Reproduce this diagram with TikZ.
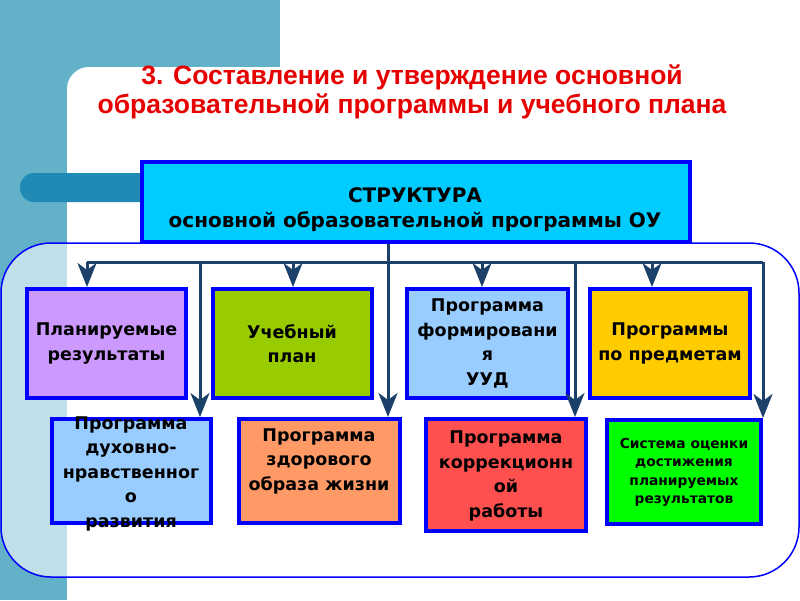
\documentclass[tikz,border=0pt]{standalone}
\usepackage{fontspec}
\setmainfont{DejaVu Sans}
\newfontfamily\titlefont{Liberation Sans}
\usetikzlibrary{arrows.meta}
\definecolor{tealbg}{HTML}{62B1C9}
\definecolor{barc}{HTML}{1E8AB5}
\definecolor{navy}{HTML}{1B4069}
\definecolor{bord}{HTML}{0000FF}
\definecolor{titlered}{HTML}{E60000}
\definecolor{cstruct}{HTML}{00CCFF}
\definecolor{cviolet}{HTML}{CC99FF}
\definecolor{colive}{HTML}{99CC00}
\definecolor{clblue}{HTML}{99CCFF}
\definecolor{cgold}{HTML}{FFCC00}
\definecolor{corange}{HTML}{FF9966}
\definecolor{cred}{HTML}{FF5050}
\definecolor{cgreen}{HTML}{00FF00}
\begin{document}
\begin{tikzpicture}[x=1pt,y=-1pt,
  box/.style={draw=bord,line width=4pt,inner sep=0pt},
  txt/.style={font=\bfseries\fontsize{17.5}{24.5}\selectfont,align=center,text=black},
  smalltxt/.style={font=\bfseries\fontsize{13.8}{18.5}\selectfont,align=center,text=black},
  conn/.style={draw=navy,line width=3pt},
  arr/.style={conn,-{Stealth[length=24pt,width=19pt,inset=7pt]}}]
\useasboundingbox (0,0) rectangle (800,600);
% background
\fill[tealbg] (0,0) rectangle (280,600);
\fill[white,rounded corners=22pt] (67,67) -- (830,67) -- (830,630) -- (67,630) -- cycle;
\fill[barc,rounded corners=14pt] (20,173) rectangle (160,202);
% container
\draw[bord,line width=1.5pt,fill=white,fill opacity=0.6,rounded corners=50pt] (1,243) rectangle (799,577);
% title
\node[font=\titlefont\bfseries\fontsize{26.5}{28.5}\selectfont,text=titlered,align=center] (title) at (412,92)
  {3. Составление и утверждение основной\\образовательной программы и учебного плана};
% structure box
\node[box,fill=cstruct,minimum width=548pt,minimum height=80pt] (s) at (416,202) {};
\node[font=\bfseries\fontsize{20}{25}\selectfont,align=center] (st) at (415,210)
  {СТРУКТУРА\\основной образовательной программы ОУ};
% row 1
\node[box,fill=cviolet,minimum width=159pt,minimum height=109pt] (p1) at (106.5,343.5) {};
\node[box,fill=colive,minimum width=159pt,minimum height=109pt] (p2) at (292,343.5) {};
\node[box,fill=clblue,minimum width=161pt,minimum height=109pt] (p3) at (487.5,343.5) {};
\node[box,fill=cgold,minimum width=160pt,minimum height=109pt] (p4) at (670,343.5) {};
\node[txt] (p1t) at (p1) {Планируемые\\результаты};
\node[txt] (p2t) at (p2) {Учебный\\план};
\node[txt] (p3t) at (p3) {Программа\\формировани\\я\\УУД};
\node[txt] (p4t) at (p4) {Программы\\по предметам};
% row 2
\node[box,fill=clblue,minimum width=159pt,minimum height=104pt] (q1) at (131,471) {};
\node[box,fill=corange,minimum width=161pt,minimum height=104pt] (q2) at (319,471) {};
\node[box,fill=cred,minimum width=160pt,minimum height=112pt] (q3) at (506,475) {};
\node[box,fill=cgreen,minimum width=154pt,minimum height=104pt] (q4) at (684,472) {};
\node[txt] (q1t) at (131,473.5) {Программа\\духовно-\\нравственног\\о\\развития};
\node[txt] (q2t) at (319,461) {Программа\\здорового\\образа жизни};
\node[txt] (q3t) at (506,476) {Программа\\коррекционн\\ой\\работы};
\node[smalltxt] (q4t) at (684,472.5) {Система оценки\\достижения\\планируемых\\результатов};
% connectors
\coordinate (busL) at (87,262);
\coordinate (busR) at (763,262);
\draw[conn] (busL) -- (busR);
\draw[arr] (busL) -- (busL |- p1.north);
\draw[arr] (293,262) -- (293,0 |- p2.north);
\draw[arr] (482,262) -- (482,0 |- p3.north);
\draw[arr] (652,262) -- (652,0 |- p4.north);
\draw[arr] (200,262) -- (200,0 |- q1.north);
\draw[arr] (s.south -| 388,0) -- (388,0 |- q2.north);
\draw[arr] (575,262) -- (575,0 |- q3.north);
\draw[arr] (busR) -- (busR |- q4.north);
\end{tikzpicture}
\end{document}
